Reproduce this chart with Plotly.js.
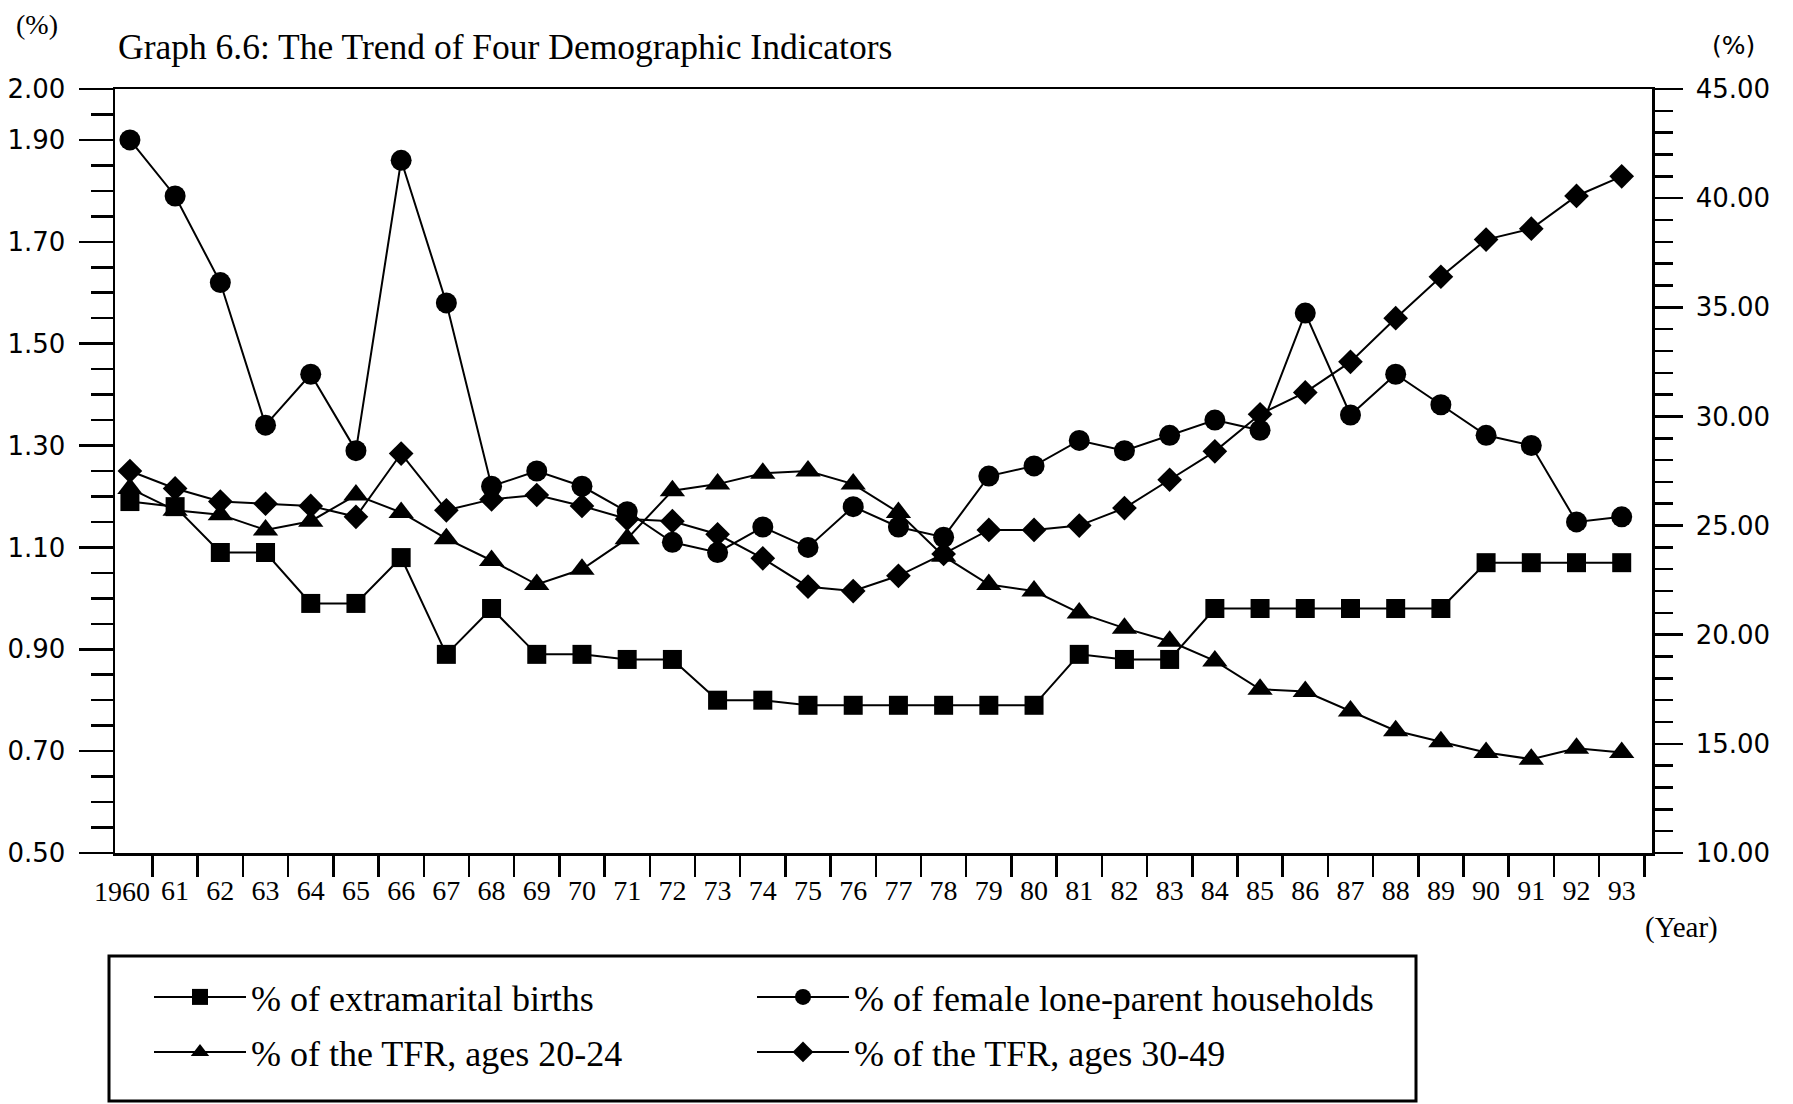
<!DOCTYPE html>
<html>
<head>
<meta charset="utf-8">
<script src="https://cdn.plot.ly/plotly-3.0.1.min.js"></script>
<style>
  html, body { margin: 0; padding: 0; background: #fff; }
  #chart { width: 1793px; height: 1104px; }
</style>
</head>
<body>
<div id="chart"></div>
<script>
// ---- data ----
const years = [1960,1961,1962,1963,1964,1965,1966,1967,1968,1969,1970,1971,1972,1973,1974,1975,1976,1977,1978,1979,1980,1981,1982,1983,1984,1985,1986,1987,1988,1989,1990,1991,1992,1993];
const yearLabels = ["1960","61","62","63","64","65","66","67","68","69","70","71","72","73","74","75","76","77","78","79","80","81","82","83","84","85","86","87","88","89","90","91","92","93"];

// left axis (%)
const extramaritalBirths = [1.19,1.18,1.09,1.09,0.99,0.99,1.08,0.89,0.98,0.89,0.89,0.88,0.88,0.80,0.80,0.79,0.79,0.79,0.79,0.79,0.79,0.89,0.88,0.88,0.98,0.98,0.98,0.98,0.98,0.98,1.07,1.07,1.07,1.07];
const femaleLoneParent = [1.90,1.79,1.62,1.34,1.44,1.29,1.86,1.58,1.22,1.25,1.22,1.17,1.11,1.09,1.14,1.10,1.18,1.14,1.12,1.24,1.26,1.31,1.29,1.32,1.35,1.33,1.56,1.36,1.44,1.38,1.32,1.30,1.15,1.16];

// right axis (%)
const tfr2024 = [26.7,25.7,25.5,24.8,25.2,26.4,25.6,24.4,23.4,22.3,23.0,24.4,26.6,26.9,27.4,27.5,26.9,25.6,23.6,22.3,22.0,21.0,20.3,19.7,18.8,17.5,17.4,16.5,15.6,15.1,14.6,14.3,14.8,14.6];
const tfr3049 = [27.5,26.7,26.1,26.0,25.9,25.4,28.3,25.7,26.2,26.4,25.9,25.3,25.2,24.6,23.5,22.2,22.0,22.7,23.7,24.8,24.8,25.0,25.8,27.1,28.4,30.1,31.1,32.5,34.5,36.4,38.1,38.6,40.1,41.0];

const leftTicks = [0.5,0.7,0.9,1.1,1.3,1.5,1.7,1.9,2.0];
const rightTicks = [10,15,20,25,30,35,40,45];

const seriesNames = [
  "% of extramarital births",
  "% of female lone-parent households",
  "% of the TFR, ages 20-24",
  "% of the TFR, ages 30-49"
];

// ---- chart ----
const serif = "Liberation Serif, Times New Roman, serif";
const sans = "DejaVu Sans, Arial, sans-serif";
const lineStyle = {color: "#000", width: 2};

const traces = [
  {x: years, y: extramaritalBirths, name: seriesNames[0], yaxis: "y", legend: "legend", type: "scatter", mode: "lines+markers",
   line: lineStyle, marker: {symbol: "square", size: 19, color: "#000"}},
  {x: years, y: femaleLoneParent, name: seriesNames[1], yaxis: "y", legend: "legend2", type: "scatter", mode: "lines+markers",
   line: lineStyle, marker: {symbol: "circle", size: 21, color: "#000"}},
  {x: years, y: tfr2024, name: seriesNames[2], yaxis: "y2", legend: "legend3", type: "scatter", mode: "lines+markers",
   line: lineStyle, marker: {symbol: "triangle-up", size: 22, color: "#000"}},
  {x: years, y: tfr3049, name: seriesNames[3], yaxis: "y2", legend: "legend4", type: "scatter", mode: "lines+markers",
   line: lineStyle, marker: {symbol: "diamond", size: 19, color: "#000"}}
];

const W = 1793, H = 1104;
const mL = 115, mR = 141, mT = 89, mB = 251;
const pw = W - mL - mR, ph = H - mT - mB;
const px = v => (v - mL) / pw;
const py = v => (H - mB - v) / ph;

function legendAt(xLeft, yCenter) {
  return {
    orientation: "h",
    xref: "container", yref: "container",
    x: xLeft / W, xanchor: "left",
    y: 1 - yCenter / H, yanchor: "middle",
    itemwidth: 92,
    font: {family: serif, size: 36, color: "#000"},
    bgcolor: "rgba(0,0,0,0)", borderwidth: 0,
    itemsizing: "trace"
  };
}

// first year label is nudged left (as in the original) to clear its neighbour
const tickTextShown = yearLabels.map((t, i) => (i === 0 ? "" : t));

const layout = {
  width: W, height: H,
  paper_bgcolor: "#fff", plot_bgcolor: "#fff",
  margin: {l: mL, r: mR, t: mT, b: mB},
  font: {family: serif, color: "#000"},
  showlegend: true,
  title: {
    text: "Graph 6.6: The Trend of Four Demographic Indicators",
    font: {family: serif, size: 35.5, color: "#000"},
    x: 118 / W, xanchor: "left", xref: "container",
    y: 1 - 47 / H, yanchor: "middle", yref: "container"
  },
  xaxis: {
    range: [1959.67, 1993.67],
    tickmode: "array", tickvals: years, ticktext: tickTextShown, tickangle: 0,
    ticks: "", ticklabelstandoff: 11,
    minor: {tickmode: "linear", tick0: 1959.5, dtick: 1, ticks: "outside", ticklen: 21, tickwidth: 2.5, tickcolor: "#000", showgrid: false},
    showline: true, linewidth: 2.5, linecolor: "#000", mirror: true,
    showgrid: false, zeroline: false,
    tickfont: {family: serif, size: 28, color: "#000"}
  },
  yaxis: {
    range: [0.5, 2.0],
    tickmode: "array", tickvals: leftTicks, tickformat: ".2f",
    ticks: "outside", ticklen: 34, tickwidth: 2.5, tickcolor: "#000",
    ticklabelstandoff: 8,
    minor: {tickmode: "linear", tick0: 0.5, dtick: 0.05, ticks: "outside", ticklen: 22, tickwidth: 2.5, tickcolor: "#000", showgrid: false},
    showline: true, linewidth: 2.5, linecolor: "#000",
    showgrid: false, zeroline: false,
    tickfont: {family: sans, size: 26, color: "#000"}
  },
  yaxis2: {
    range: [10, 45], overlaying: "y", side: "right",
    tickmode: "array", tickvals: rightTicks, tickformat: ".2f",
    ticks: "outside", ticklen: 28, tickwidth: 2.5, tickcolor: "#000",
    ticklabelstandoff: 8,
    minor: {tickmode: "linear", tick0: 10, dtick: 1, ticks: "outside", ticklen: 18, tickwidth: 2.5, tickcolor: "#000", showgrid: false},
    showline: true, linewidth: 2.5, linecolor: "#000",
    showgrid: false, zeroline: false,
    tickfont: {family: sans, size: 26, color: "#000"}
  },
  legend: legendAt(149, 997),
  legend2: legendAt(752, 997),
  legend3: legendAt(149, 1052),
  legend4: legendAt(752, 1052),
  shapes: [
    {type: "rect", xref: "paper", yref: "paper",
     x0: px(109), x1: px(1416), y0: py(1101), y1: py(956),
     line: {color: "#000", width: 3}, fillcolor: "rgba(0,0,0,0)"}
  ],
  annotations: [
    {text: yearLabels[0], xref: "x", yref: "paper", x: years[0], y: py(891), xanchor: "center", yanchor: "middle",
     xshift: -8, showarrow: false, font: {family: serif, size: 28, color: "#000"}},
    {text: "(%)", xref: "paper", yref: "paper", x: px(37), y: py(25), xanchor: "center", yanchor: "middle",
     showarrow: false, font: {family: serif, size: 28, color: "#000"}},
    {text: "(%)", xref: "paper", yref: "paper", x: px(1733), y: py(46), xanchor: "center", yanchor: "middle",
     showarrow: false, font: {family: sans, size: 25, color: "#000"}},
    {text: "(Year)", xref: "paper", yref: "paper", x: px(1681), y: py(928), xanchor: "center", yanchor: "middle",
     showarrow: false, font: {family: serif, size: 29, color: "#000"}}
  ]
};

Plotly.newPlot("chart", traces, layout, {displayModeBar: false, staticPlot: true});
</script>
</body>
</html>
